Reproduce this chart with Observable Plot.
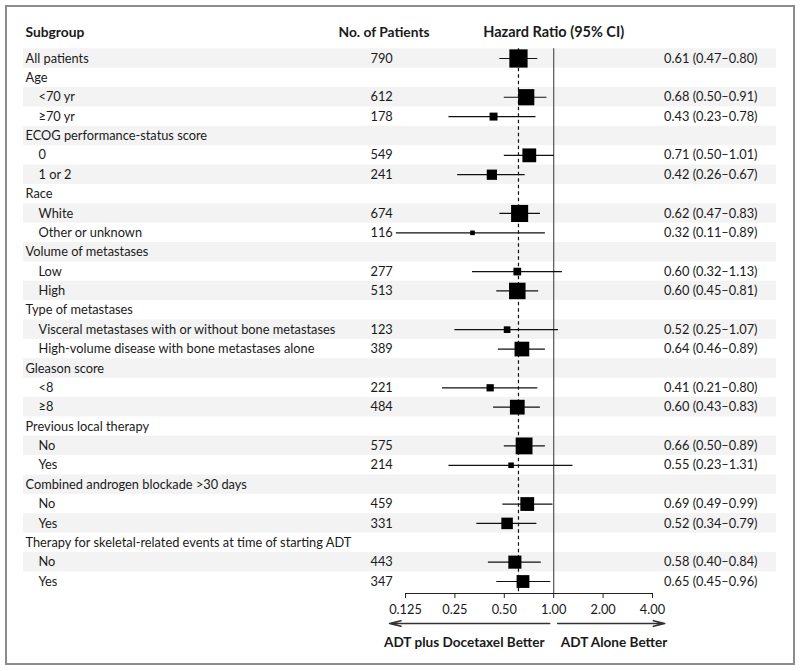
<!DOCTYPE html>
<html><head><meta charset="utf-8">
<script src="https://cdn.jsdelivr.net/npm/d3@7"></script>
<script src="https://cdn.jsdelivr.net/npm/@observablehq/plot@0.6"></script>
<style>
body{margin:0;background:#fff;font-family:Lato,sans-serif;}
#wrap{position:relative;width:800px;height:671px;overflow:hidden;}
#border{position:absolute;left:5px;top:5px;width:786px;height:656px;border:2px solid #8c8c8c;}
#a,#b{position:absolute;left:0;}
#a{top:0;}
#b{top:588px;}
svg{overflow:visible;}
</style></head><body>
<div id="wrap"><div id="border"></div><div id="a"></div><div id="b"></div></div>
<script>
const subgroups = ["All patients","Age","<70 yr","≥70 yr","ECOG performance-status score","0","1 or 2","Race","White","Other or unknown","Volume of metastases","Low","High","Type of metastases","Visceral metastases with or without bone metastases","High-volume disease with bone metastases alone","Gleason score","<8","≥8","Previous local therapy","No","Yes","Combined androgen blockade >30 days","No","Yes","Therapy for skeletal-related events at time of starting ADT","No","Yes"];
const levels = [0,0,1,1,0,1,1,0,1,1,0,1,1,0,1,1,0,1,1,0,1,1,0,1,1,0,1,1];
const patients = [790,null,612,178,null,549,241,null,674,116,null,277,513,null,123,389,null,221,484,null,575,214,null,459,331,null,443,347];
const hazard = [0.61,null,0.68,0.43,null,0.71,0.42,null,0.62,0.32,null,0.60,0.60,null,0.52,0.64,null,0.41,0.60,null,0.66,0.55,null,0.69,0.52,null,0.58,0.65];
const lower = [0.47,null,0.50,0.23,null,0.50,0.26,null,0.47,0.11,null,0.32,0.45,null,0.25,0.46,null,0.21,0.43,null,0.50,0.23,null,0.49,0.34,null,0.40,0.45];
const upper = [0.80,null,0.91,0.78,null,1.01,0.67,null,0.83,0.89,null,1.13,0.81,null,1.07,0.89,null,0.80,0.83,null,0.89,1.31,null,0.99,0.79,null,0.84,0.96];
const overallHR = 0.61;
const tickValues = [0.125,0.25,0.5,1,2,4];
const tickLabels = ["0.125","0.25","0.50","1.00","2.00","4.00"];
const directionLabels = ["ADT plus Docetaxel Better","ADT Alone Better"];
const directionEnds = [0.1,4.75];

const rows = subgroups.map((s,i)=>({
  i, s, level: levels[i], n: patients[i], hr: hazard[i], lo: lower[i], hi: upper[i],
  prec: hazard[i] == null ? null : (2*1.96)/Math.log(upper[i]/lower[i]),
  ci: hazard[i] == null ? "" : `${hazard[i].toFixed(2)} (${lower[i].toFixed(2)}–${upper[i].toFixed(2)})`
}));
const est = rows.filter(d=>d.hr != null);
const maxPrec = d3.max(est, d=>d.prec);
const axisRange = [405, 652];
const font = {fontFamily:"Lato, sans-serif", fontSize:"12.8px", color:"#1a1a1a", background:"transparent", overflow:"visible"};
const ink = "#1a1a1a";

const chartA = Plot.plot({
  width: 800, height: 596,
  marginLeft: 23, marginRight: 24, marginTop: 48.3, marginBottom: 3,
  x: {type:"log", base:2, domain:[0.125,4], range: axisRange, axis:null},
  y: {type:"band", domain: rows.map(d=>d.i), range:[48.3,590.7], padding:0, round:false, axis:null},
  r: {type:"linear", domain:[0,maxPrec], range:[0,10.3]},
  style: font,
  marks: [
    Plot.cell(rows.filter(d=>d.i%2===0), {y:"i", fill:"#f3f3f3"}),
    Plot.ruleX([1], {stroke:"#555", strokeWidth:1.2}),
    Plot.ruleX([overallHR], {stroke:"#111", strokeDasharray:"3.5,3", strokeWidth:1.2}),
    Plot.ruleY(est, {y:"i", x1:"lo", x2:"hi", stroke:"#111", strokeWidth:1.2}),
    Plot.dot(est, {x:"hr", y:"i", r:"prec", symbol:"square", fill:"#000", stroke:null}),
    Plot.text(rows.filter(d=>d.level===0), {y:"i", text:"s", frameAnchor:"left", textAnchor:"start", lineAnchor:"middle", dx:2, fill:ink}),
    Plot.text(rows.filter(d=>d.level===1), {y:"i", text:"s", frameAnchor:"left", textAnchor:"start", lineAnchor:"middle", dx:15, fill:ink}),
    Plot.text(est, {y:"i", text:d=>String(d.n), frameAnchor:"left", textAnchor:"start", lineAnchor:"middle", dx:347, fill:ink}),
    Plot.text(est, {y:"i", text:"ci", frameAnchor:"right", textAnchor:"end", lineAnchor:"middle", dx:-19, fill:ink}),
    Plot.text(["Subgroup"], {text:d=>d, frameAnchor:"top-left", textAnchor:"start", lineAnchor:"middle", dx:2, dy:-16, fontWeight:"bold", fontSize:13.8, fill:ink}),
    Plot.text(["No. of Patients"], {text:d=>d, frameAnchor:"top-left", textAnchor:"start", lineAnchor:"middle", dx:315, dy:-16, fontWeight:"bold", fontSize:13.8, fill:ink}),
    Plot.text([1], {x:d=>d, text:()=>"Hazard Ratio (95% CI)", frameAnchor:"top", textAnchor:"middle", lineAnchor:"middle", dy:-16, fontWeight:"bold", fontSize:14.5, fill:ink})
  ]
});
document.getElementById("a").appendChild(chartA);

const dirs = directionLabels.map((label,i)=>({label, end: directionEnds[i], side: i}));
const chartB = Plot.plot({
  width: 800, height: 83,
  marginLeft: axisRange[0], marginRight: 800-axisRange[1], marginTop: 5, marginBottom: 73,
  x: {type:"log", base:2, domain:[0.125,4], axis:null},
  y: {type:"point", domain:["arrows","labels"], range:[35,54], padding:0, round:false, axis:null},
  style: font,
  marks: [
    Plot.frame({anchor:"top", stroke:"#222"}),
    Plot.tickX(tickValues, {x:d=>d, stroke:"#222"}),
    Plot.text(tickValues, {x:d=>d, text:(d,i)=>tickLabels[i], frameAnchor:"bottom", lineAnchor:"middle", dy:11, fontSize:12.8, fill:ink}),
    Plot.arrow(dirs, {x1:()=>1, x2:"end", y1:()=>"arrows", y2:()=>"arrows", insetStart:4, headAngle:28, headLength:11, stroke:"#333", strokeWidth:1.6}),
    Plot.text(dirs.filter(d=>d.side===0), {x:()=>1, y:()=>"labels", text:"label", textAnchor:"end", lineAnchor:"middle", dx:-9, fontWeight:"bold", fontSize:13.6, fill:ink}),
    Plot.text(dirs.filter(d=>d.side===1), {x:()=>1, y:()=>"labels", text:"label", textAnchor:"start", lineAnchor:"middle", dx:7, fontWeight:"bold", fontSize:13.6, fill:ink})
  ]
});
document.getElementById("b").appendChild(chartB);
</script>
</body></html>
